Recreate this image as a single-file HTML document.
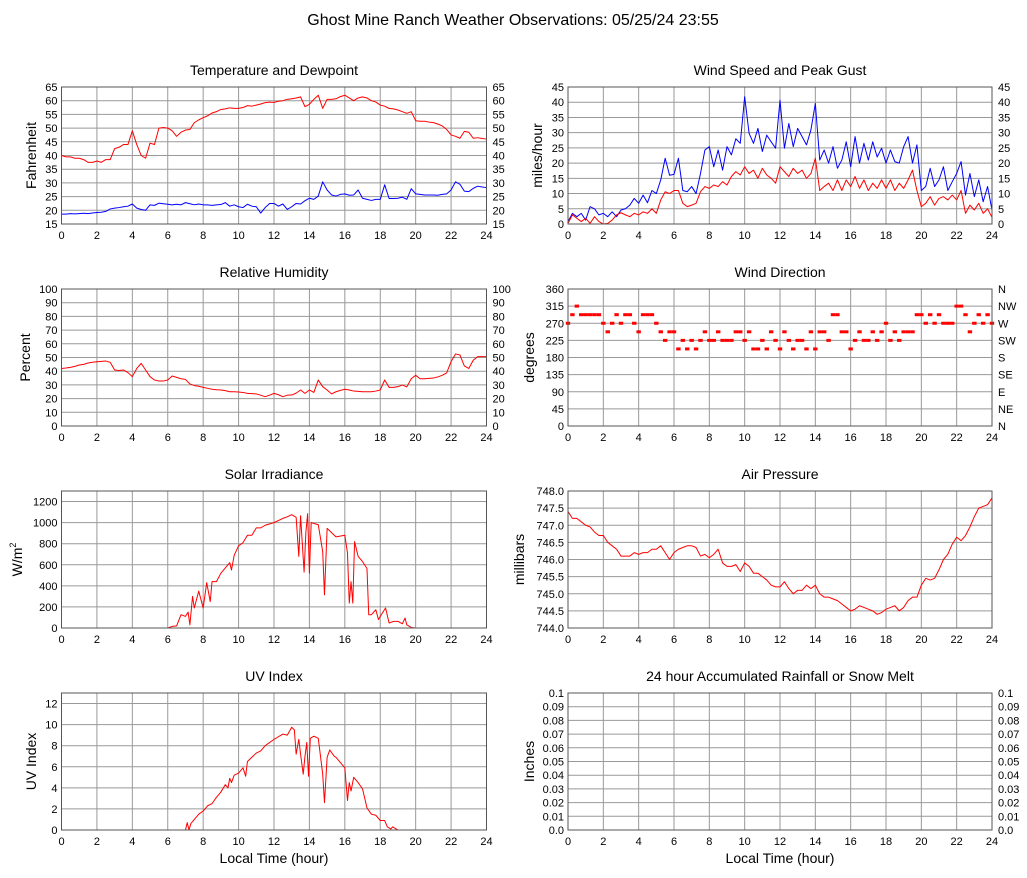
<!DOCTYPE html>
<html><head><meta charset="utf-8"><title>Ghost Mine Ranch Weather</title>
<style>
html,body{margin:0;padding:0;background:#fff;}
svg{display:block;font-family:"Liberation Sans",sans-serif;}
</style></head>
<body>
<svg id="chart" width="1027" height="878" viewBox="0 0 1027 878" xmlns="http://www.w3.org/2000/svg">
<text x="513" y="25" font-size="16" text-anchor="middle">Ghost Mine Ranch Weather Observations: 05/25/24 23:55</text>
</svg>
<script>
// ---- data (15-minute grid, 0..24h) ----
const tempF = [40,39.5,39.5,39,39, 38.5,37.5,37.5,38, 37.5,38.5,38.5,42.5, 43,44,44,49, 44,40,39,44.5, 44,50,50.2,50, 49,47,48.5,49.3, 49.5,52,53,53.8, 54.5,55.5,56,56.8, 57,57.4,57.2,57.2, 57.5,58.2,58,58.4, 58.8,59.3,59.5,59.4, 59.8,60,60.5,60.7, 61,61.4,57.8,58.7, 60.5,62,57.2,60.5, 60.5,60.7,61.5,62, 61,60,61,61.4, 61,60,59.5,58.4, 58,57.2,57,56.6, 56,55.4,56,52.7, 52.5,52.5,52.2,52, 51.5,50.8,49.5,47.5, 47,46.3,48.8,48.5, 46.3,46.5,46.2,46];
const dewF = [18.6,18.6,18.8,18.7,18.8, 18.9,18.8,19,19.2, 19.3,19.6,20.5,20.8, 21,21.3,21.5,22.3, 20.8,20.3,20,22, 21.8,22.6,22.4,22.2, 22,22.2,22,22.8, 22.4,22,22.3,22, 22,21.8,22,22.1, 22.8,21.5,22,21.3, 21,22.2,21.5,21.3, 19,21,22.5,22.5, 21.5,22.3,20.3,21.3, 22.5,22.3,23.5,24.4, 24,25.2,30.4,27.4, 25.6,25.2,25.8,26, 25.5,25.6,27.4,24.4, 24,23.6,24,24, 29.3,24.3,24.3,24.4, 24.8,24,27.9,26, 25.8,25.6,25.6,25.6, 25.5,25.8,26,27.4, 30.4,29.5,27,26.8, 28,28.8,28.5,28.3];
const gustMph = [0.8,3.5,2.4,3.5,1.3, 5.7,5,3,3.5, 2.4,4,2.4,4.6, 5,6.2,8.4,6.8, 9.5,7,11,10, 14.5,21.6,16,16.3, 21.6,11,10.6,12.3, 10,16.6,24.3,25.4, 18.8,24.3,17.7,25.4, 22.7,28,26.5,41.8, 29.8,26.5,31.4,23.8, 29.2,27,24.9,40.7, 24.9,33,25.4,31.4, 28.7,26,30.9,39.6, 21,24.3,20,25.4, 18.3,21,27,18.8, 28.7,20,26.5,21, 27,22,24.9,20, 24.3,20.5,20,25.4, 28.7,20,26,11, 12.3,18.3,12.3,14.5, 18.8,11,13.9,16.6, 20.5,9.5,16.6,9, 14.5,7.3,12.3,4.6];
const speedMph = [0.2,3,1.9,0.8,1.9, 0.2,2.4,0.8,0, 0.2,1.3,3,3.7, 3,2.4,3.5,3, 4,3.5,5,3.5, 7.9,10.6,10,11, 11,6.8,5.7,6.2, 6.8,10.6,12.3,11.7, 12.8,12.3,13.9,12.8, 15.6,17.2,16.1,18.8, 16.6,17.7,15,18.3, 16.1,15,13.4,18.8, 17.2,15.6,18.3,16.6, 17.7,15,16.6,21.6, 11,12.3,13.4,11, 14.5,11,14.5,12.3, 15.6,11.7,14.5,11, 13.4,11.7,14.5,11.7, 14.5,11,13.4,11.7, 14.5,17.7,11,5.7, 6.8,9,6.2,8.4, 9,7.9,9.5,7.9, 11,3.5,6.2,4.6, 6.8,3.5,5,2.2];
const windDirDeg = [270,292.5,315,292.5,292.5, 292.5,292.5,292.5,270, 247.5,270,292.5,270, 292.5,292.5,270,247.5, 292.5,292.5,292.5,270, 247.5,225,247.5,247.5, 202.5,225,202.5,225, 202.5,225,247.5,225, 225,247.5,225,225, 225,247.5,247.5,225, 247.5,202.5,202.5,225, 202.5,247.5,225,202.5, 247.5,225,202.5,225, 225,202.5,247.5,202.5, 247.5,247.5,225,292.5, 292.5,247.5,247.5,202.5, 225,247.5,225,225, 247.5,225,247.5,270, 225,247.5,225,247.5, 247.5,247.5,292.5,292.5, 270,292.5,270,292.5, 270,270,270,315, 315,292.5,247.5,270, 292.5,270,292.5,270];
const rhPct = [42,42.3,42.8,43.5,44.5, 45,46,46.5,46.9, 47.2,47.4,46.5,40.9, 40.5,40.9,39,36, 42,45.7,40.9,36, 33.6,32.8,32.8,33.6, 36.5,35.5,34.5,34, 30.7,29.5,29,28.2, 27.5,26.8,26.5,26.3, 25.8,25,25,24.8, 24.5,23.8,23.6,23.4, 22.5,21.4,22.5,23.8, 22.8,21.4,22.5,22.6, 24,26.3,23.8,26.3, 24.5,33.6,28.7,26.3, 23.4,25,26,26.8, 26.3,25.5,25.3,25, 25,25,25.5,26.3, 33.6,28.2,28.2,28.7, 29.9,28.5,34.5,37, 34.5,34.5,34.8,35, 35.8,37,38.7,47, 52.6,51.8,43.8,42, 48,50.6,50.6,50.6];
const pressureMb = [747.4,747.2,747.2,747.1,747.0, 746.95,746.8,746.7,746.7, 746.5,746.4,746.3,746.1, 746.1,746.1,746.2,746.15, 746.2,746.2,746.3,746.3, 746.4,746.2,746.0,746.2, 746.3,746.35,746.4,746.4, 746.35,746.1,746.15,746.05, 746.15,746.3,745.9,745.8, 745.8,745.85,745.65,745.9, 745.8,745.6,745.6,745.5, 745.4,745.25,745.2,745.2, 745.35,745.15,745.0,745.1, 745.1,745.25,745.15,745.25, 745.0,744.9,744.9,744.85, 744.8,744.7,744.6,744.5, 744.55,744.65,744.6,744.55, 744.5,744.4,744.45,744.55, 744.6,744.65,744.5,744.6, 744.8,744.9,744.9,745.25, 745.45,745.4,745.45,745.7, 746.0,746.15,746.45,746.65, 746.55,746.7,746.95,747.25, 747.5,747.55,747.6,747.8];
const rainIn = [0,0];
const rainHours = [0,24];
// solar and UV: irregular sample times
const solarHours = [0,6,6.25,6.5,6.75,7,7.15,7.25,7.4,7.5,7.75,8,8.2,8.4,8.5,8.75,9,9.5,9.6,9.75,10,10.25,10.5,10.75,11,11.25,11.5,12,12.5,12.75,13,13.25,13.4,13.5,13.7,13.8,13.9,14,14.1,14.5,14.75,14.85,15,15.5,16,16.15,16.25,16.35,16.45,16.55,16.75,17,17.25,17.35,17.5,17.75,17.9,18,18.3,18.5,18.75,19,19.25,19.4,19.5,19.75,20,24];
const solarWm2 = [0,0,15,20,126,110,150,30,300,190,350,190,430,250,440,440,520,620,550,690,780,810,880,880,950,950,975,1000,1040,1055,1075,1050,680,1065,530,910,1085,520,1000,980,725,315,945,865,880,710,236,440,236,820,680,630,565,126,126,173,80,110,190,47,63,63,40,95,30,5,0,0];
const uvHours = [0,7,7.1,7.2,7.3,7.5,7.75,8,8.25,8.5,8.75,9,9.25,9.4,9.5,9.6,9.75,10,10.25,10.4,10.5,10.75,11,11.25,11.5,12,12.5,12.75,13,13.15,13.25,13.4,13.5,13.65,13.75,13.85,13.95,14.05,14.25,14.5,14.75,14.85,15,15.15,15.4,15.5,15.75,16,16.15,16.25,16.35,16.5,16.75,17,17.25,17.5,17.75,18,18.25,18.4,18.6,18.7,18.9,19,24];
const uvIndex = [0,0,0.7,0,0.6,1.0,1.5,1.8,2.3,2.5,3.1,3.6,4.3,4.0,4.9,4.5,5.2,5.4,5.9,5.1,6.5,6.9,7.3,7.5,8.0,8.6,9.1,9.0,9.75,9.5,7.2,8.6,7.2,5.3,7.0,8.3,5.1,8.7,8.9,8.7,5.3,2.6,6.9,7.6,7.0,6.9,6.4,5.9,2.8,4.5,3.7,5.0,4.5,3.9,2.1,1.5,1.4,0.9,0.9,0.3,0.1,0.3,0.1,0,0];
const xTickLabels = ["0","2","4","6","8","10","12","14","16","18","20","22","24"];
const dirLabels = ["N","NE","E","SE","S","SW","W","NW","N"];
const rainTickLabels = ["0.0","0.01","0.02","0.03","0.04","0.05","0.06","0.07","0.08","0.09","0.1"];

const quarterHours = tempF.map((_, i) => i * 0.25);
const NS = "http://www.w3.org/2000/svg";
const svg = document.getElementById("chart");

function mk(tag, attrs, parent) {
  const e = document.createElementNS(NS, tag);
  for (const k in attrs) e.setAttribute(k, attrs[k]);
  (parent || svg).appendChild(e);
  return e;
}

function panel(cfg) {
  const g = mk("g", {});
  
  
  const xs = t => cfg.x0 + t / 24 * (cfg.x1 - cfg.x0);
  const ys = v => cfg.y1 - (v - cfg.ymin) / (cfg.ymax - cfg.ymin) * (cfg.y1 - cfg.y0);
  // title
  const title = mk("text", {x: (cfg.x0 + cfg.x1) / 2, y: cfg.y0 - 12, "font-size": 14, "text-anchor": "middle"}, g);
  title.textContent = cfg.title;
  
  
  // vertical grid + x labels
  xTickLabels.forEach((lab, i) => {
    const t = +lab;
    const x = xs(t);
    if (t > 0 && t < 24) {
      const gl = mk("line", {x1: x, x2: x, y1: cfg.y0, y2: cfg.y1, stroke: "#999", "stroke-width": 1}, g);
      
      
    }
    const tl = mk("text", {x: x, y: cfg.y1 + 15, "font-size": 11, "text-anchor": "middle"}, g);
    tl.textContent = lab;
    
    
  });
  // horizontal grid + y labels
  cfg.yticks.forEach((v, i) => {
    const y = ys(v);
    if (v > cfg.ymin && y > cfg.y0 + 0.5) {
      const gl = mk("line", {x1: cfg.x0, x2: cfg.x1, y1: y, y2: y, stroke: "#999", "stroke-width": 1}, g);
      
      
    }
    const tl = mk("text", {x: cfg.x0 - 4, y: y + 4, "font-size": 11, "text-anchor": "end"}, g);
    tl.textContent = cfg.yfmt(v, i);
    
    
    if (cfg.rfmt) {
      const rl = mk("text", {x: cfg.x1 + 6, y: y + 4, "font-size": 11, "text-anchor": "start"}, g);
      rl.textContent = cfg.rfmt(v, i);
      
      
    }
  });
  // y title
  const yt = mk("text", {x: 0, y: 0, "font-size": 14, "text-anchor": "middle", transform: `translate(${cfg.ytx},${(cfg.y0 + cfg.y1) / 2}) rotate(-90)`}, g);
  if (cfg.ytitleSup) {
    yt.textContent = cfg.ytitle;
    const sp = mk("tspan", {"font-size": 9, dy: -6}, yt);
    sp.textContent = cfg.ytitleSup;
  } else {
    yt.textContent = cfg.ytitle;
  }
  
  
  // series
  (cfg.series || []).forEach(s => {
    if (s.dots) {
      const w = xs(0.25) - xs(0);
      s.vals.forEach((v, i) => {
        const r = mk("rect", {x: xs(s.hours[i]) - w / 2, y: ys(v) - 1.5, width: w, height: 3, fill: s.color}, g);
        
        
      });
    } else {
      const pts = s.vals.map((v, i) => xs(s.hours[i]).toFixed(2) + "," + ys(v).toFixed(2)).join(" ");
      const pl = mk("polyline", {points: pts, fill: "none", stroke: s.color, "stroke-width": 1, "stroke-linejoin": "round"}, g);
      
      
    }
  });
  // frame
  const fr = mk("rect", {x: cfg.x0, y: cfg.y0, width: cfg.x1 - cfg.x0, height: cfg.y1 - cfg.y0, fill: "none", stroke: "#555", "stroke-width": 1}, g);
  
  
  if (cfg.xtitle) {
    const xt = mk("text", {x: (cfg.x0 + cfg.x1) / 2, y: cfg.y1 + 33, "font-size": 14, "text-anchor": "middle"}, g);
    xt.textContent = "Local Time (hour)";
    
    
  }
}

const range = (a, b, s) => { const r = []; for (let v = a; v <= b + 1e-9; v += s) r.push(+v.toFixed(4)); return r; };
const L0 = 61.5, L1 = 486.5, R0 = 568, R1 = 992;
const rows = [[87, 224], [289, 426], [491, 628], [693, 830]];

panel({name: "temperature-panel", title: "Temperature and Dewpoint", ytitle: "Fahrenheit", ytx: 36,
  x0: L0, x1: L1, y0: rows[0][0], y1: rows[0][1], ymin: 15, ymax: 65, yticks: range(15, 65, 5),
  yfmt: v => String(v), rfmt: v => String(v),
  series: [{name: "temperature-line", hours: quarterHours, vals: tempF, color: "#ff0000"},
           {name: "dewpoint-line", hours: quarterHours, vals: dewF, color: "#0000ff"}]});
panel({name: "wind-speed-panel", title: "Wind Speed and Peak Gust", ytitle: "miles/hour", ytx: 542,
  x0: R0, x1: R1, y0: rows[0][0], y1: rows[0][1], ymin: 0, ymax: 45, yticks: range(0, 45, 5),
  yfmt: v => String(v), rfmt: v => String(v),
  series: [{name: "gust-line", hours: quarterHours, vals: gustMph, color: "#0000ff"},
           {name: "speed-line", hours: quarterHours, vals: speedMph, color: "#ff0000"}]});
panel({name: "humidity-panel", title: "Relative Humidity", ytitle: "Percent", ytx: 30,
  x0: L0, x1: L1, y0: rows[1][0], y1: rows[1][1], ymin: 0, ymax: 100, yticks: range(0, 100, 10),
  yfmt: v => String(v), rfmt: v => String(v),
  series: [{name: "humidity-line", hours: quarterHours, vals: rhPct, color: "#ff0000"}]});
panel({name: "wind-direction-panel", title: "Wind Direction", ytitle: "degrees", ytx: 534,
  x0: R0, x1: R1, y0: rows[1][0], y1: rows[1][1], ymin: 0, ymax: 360, yticks: range(0, 360, 45),
  yfmt: v => String(v), rfmt: (v, i) => dirLabels[i],
  series: [{dots: true, hours: quarterHours, vals: windDirDeg, color: "#ff0000"}]});
panel({name: "solar-panel", title: "Solar Irradiance", ytitle: "W/m", ytitleSup: "2", ytx: 22,
  x0: L0, x1: L1, y0: rows[2][0], y1: rows[2][1], ymin: 0, ymax: 1300, yticks: range(0, 1200, 200),
  yfmt: v => String(v),
  series: [{name: "solar-line", hours: solarHours, vals: solarWm2, color: "#ff0000"}]});
panel({name: "pressure-panel", title: "Air Pressure", ytitle: "millibars", ytx: 524,
  x0: R0, x1: R1, y0: rows[2][0], y1: rows[2][1], ymin: 744, ymax: 748, yticks: range(744, 748, 0.5),
  yfmt: v => v.toFixed(1),
  series: [{name: "pressure-line", hours: quarterHours, vals: pressureMb, color: "#ff0000"}]});
panel({name: "uv-panel", title: "UV Index", ytitle: "UV Index", ytx: 36,
  x0: L0, x1: L1, y0: rows[3][0], y1: rows[3][1], ymin: 0, ymax: 13, yticks: range(0, 12, 2),
  yfmt: v => String(v), xtitle: true,
  series: [{name: "uv-line", hours: uvHours, vals: uvIndex, color: "#ff0000"}]});
panel({name: "rainfall-panel", title: "24 hour Accumulated Rainfall or Snow Melt", ytitle: "Inches", ytx: 534,
  x0: R0, x1: R1, y0: rows[3][0], y1: rows[3][1], ymin: 0, ymax: 0.1, yticks: range(0, 0.1, 0.01),
  yfmt: (v, i) => rainTickLabels[i], rfmt: (v, i) => rainTickLabels[i], xtitle: true,
  series: [{name: "rainfall-line", hours: rainHours, vals: rainIn, color: "#ff0000"}]});
</script>
</body></html>
